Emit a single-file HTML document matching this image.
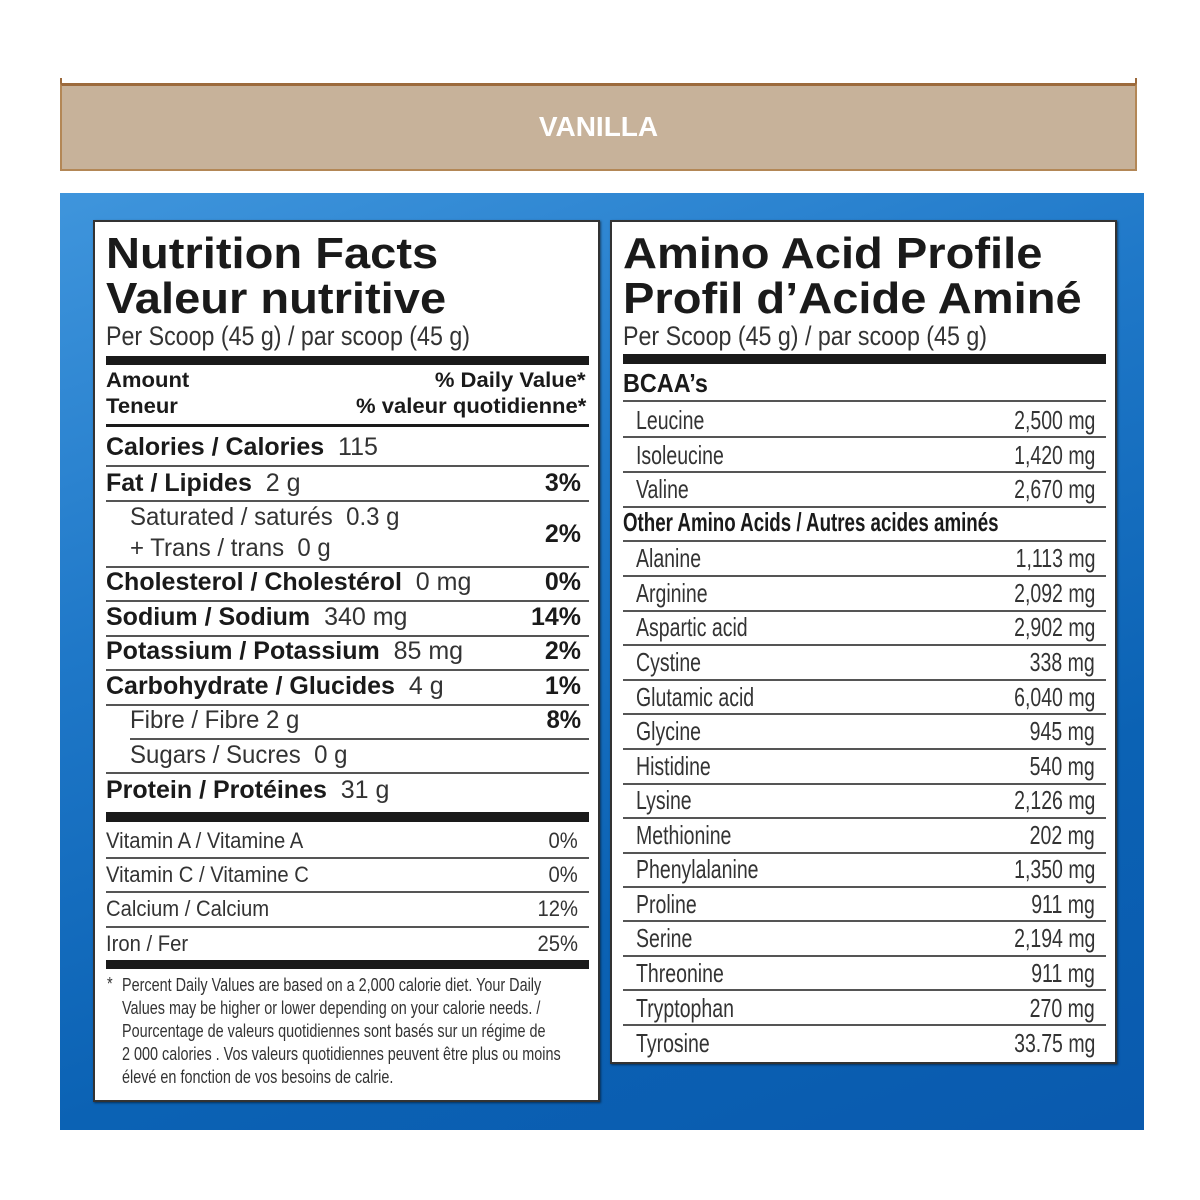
<!DOCTYPE html>
<html><head><meta charset="utf-8"><style>
*{margin:0;padding:0;box-sizing:border-box}
body{width:1200px;height:1200px;background:#fff;position:relative;overflow:hidden;font-family:"Liberation Sans",sans-serif;color:#222}
.a{position:absolute}
.band{left:60px;top:83px;width:1077px;height:88px;background:#c7b29a;border:2px solid #b38756;border-top:3px solid #9c6a3c}
.band span{position:absolute;left:0;right:0;top:25px;text-align:center;color:#fff;font-weight:bold;font-size:28px}
.blue{left:60px;top:193px;width:1084px;height:937px;background:linear-gradient(160deg,#3f95dc 0%,#1f78c8 35%,#0b62b4 70%,#0a5aae 100%)}
.panel{background:#fff;border:2px solid #333;box-shadow:1px 1px 2px rgba(0,0,0,.5)}
.h1{font-weight:bold;font-size:44px;line-height:46px;color:#1a1a1a;white-space:nowrap;transform:scaleX(1.07);transform-origin:left}
.r{position:absolute;height:30px;display:flex;justify-content:space-between;align-items:center;white-space:nowrap;font-size:25px;color:#333}
.r>*{display:inline-block;transform:scaleX(var(--s,1));transform-origin:right}
.r>*:first-child{transform-origin:left}
.b{font-weight:bold;color:#1a1a1a}
.ln{position:absolute;height:2px;background:#555}
.bar{position:absolute;background:#1a1a1a}
.fn{position:absolute;font-size:18px;line-height:23px;color:#333;white-space:nowrap;transform:scaleX(.8);transform-origin:left}
.am{--s:.75;font-size:26px}
.vt{--s:.92;font-size:22px}
</style></head><body>
<div class="a" style="left:60px;top:78px;width:2px;height:8px;background:#9c6a3c"></div>
<div class="a" style="left:1135px;top:78px;width:2px;height:8px;background:#9c6a3c"></div>
<div class="a band"><span>VANILLA</span></div>
<div class="a blue"></div>

<!-- LEFT PANEL -->
<div class="a panel" style="left:93px;top:220px;width:507px;height:882px"></div>
<div class="a h1" style="left:106px;top:231px">Nutrition Facts</div>
<div class="a h1" style="left:106px;top:276px">Valeur nutritive</div>
<div class="r" style="left:106px;top:321px;font-size:27px;--s:.86"><span>Per Scoop (45 g) / par scoop (45 g)</span></div>
<div class="bar" style="left:106px;top:356px;width:483px;height:9px"></div>
<div class="r b" style="left:106px;top:366px;width:480px;font-size:21px;--s:1.05"><span>Amount</span><span>% Daily Value*</span></div>
<div class="r b" style="left:106px;top:392px;width:480px;font-size:21px;--s:1.05"><span>Teneur</span><span>% valeur quotidienne*</span></div>
<div class="bar" style="left:106px;top:424px;width:483px;height:3px"></div>
<div class="r" style="left:106px;top:432px;width:475px"><span><b class="b">Calories / Calories</b>&nbsp; 115</span><span></span></div>
<div class="ln" style="left:106px;top:465px;width:483px"></div>
<div class="r" style="left:106px;top:468px;width:475px"><span><b class="b">Fat / Lipides</b>&nbsp; 2 g</span><b class="b">3%</b></div>
<div class="ln" style="left:106px;top:500px;width:483px"></div>
<div class="r" style="left:130px;top:502px;--s:.96"><span>Saturated / saturés&nbsp; 0.3 g</span></div>
<div class="r" style="left:130px;top:533px;--s:.96"><span>+ Trans / trans&nbsp; 0 g</span></div>
<div class="r b" style="left:540px;top:519px;width:41px;justify-content:flex-end"><span>2%</span></div>
<div class="ln" style="left:106px;top:566px;width:483px"></div>
<div class="r" style="left:106px;top:567px;width:475px"><span><b class="b">Cholesterol / Cholestérol</b>&nbsp; 0 mg</span><b class="b">0%</b></div>
<div class="ln" style="left:106px;top:600px;width:483px"></div>
<div class="r" style="left:106px;top:602px;width:475px"><span><b class="b">Sodium / Sodium</b>&nbsp; 340 mg</span><b class="b">14%</b></div>
<div class="ln" style="left:106px;top:635px;width:483px"></div>
<div class="r" style="left:106px;top:636px;width:475px"><span><b class="b">Potassium / Potassium</b>&nbsp; 85 mg</span><b class="b">2%</b></div>
<div class="ln" style="left:106px;top:669px;width:483px"></div>
<div class="r" style="left:106px;top:671px;width:475px"><span><b class="b">Carbohydrate / Glucides</b>&nbsp; 4 g</span><b class="b">1%</b></div>
<div class="ln" style="left:106px;top:704px;width:483px"></div>
<div class="r" style="left:130px;top:705px;width:451px;--s:.96"><span>Fibre / Fibre 2 g</span><b class="b">8%</b></div>
<div class="ln" style="left:130px;top:738px;width:459px"></div>
<div class="r" style="left:130px;top:740px;--s:.96"><span>Sugars / Sucres&nbsp; 0 g</span></div>
<div class="ln" style="left:106px;top:772px;width:483px"></div>
<div class="r" style="left:106px;top:775px"><span><b class="b">Protein / Protéines</b>&nbsp; 31 g</span></div>
<div class="bar" style="left:106px;top:812px;width:483px;height:10px"></div>
<div class="r vt" style="left:106px;top:826px;width:472px"><span>Vitamin A / Vitamine A</span><span>0%</span></div>
<div class="ln" style="left:106px;top:857px;width:483px"></div>
<div class="r vt" style="left:106px;top:860px;width:472px"><span>Vitamin C / Vitamine C</span><span>0%</span></div>
<div class="ln" style="left:106px;top:891px;width:483px"></div>
<div class="r vt" style="left:106px;top:894px;width:472px"><span>Calcium / Calcium</span><span>12%</span></div>
<div class="ln" style="left:106px;top:926px;width:483px"></div>
<div class="r vt" style="left:106px;top:929px;width:472px"><span>Iron / Fer</span><span>25%</span></div>
<div class="bar" style="left:106px;top:960px;width:483px;height:9px"></div>
<div class="fn" style="left:107px;top:973px">*</div>
<div class="fn" style="left:122px;top:974px">Percent Daily Values are based on a 2,000 calorie diet. Your Daily<br>Values may be higher or lower depending on your calorie needs. /<br>Pourcentage de valeurs quotidiennes sont basés sur un régime de<br>2 000 calories . Vos valeurs quotidiennes peuvent être plus ou moins<br>élevé en fonction de vos besoins de calrie.</div>

<!-- RIGHT PANEL -->
<div class="a panel" style="left:610px;top:220px;width:507px;height:844px"></div>
<div class="a h1" style="left:623px;top:231px">Amino Acid Profile</div>
<div class="a h1" style="left:623px;top:276px">Profil d’Acide Aminé</div>
<div class="r" style="left:623px;top:321px;font-size:27px;--s:.86"><span>Per Scoop (45 g) / par scoop (45 g)</span></div>
<div class="bar" style="left:623px;top:354px;width:483px;height:10px"></div>
<div class="r b" style="left:623px;top:368px;font-size:26px;--s:.9"><span>BCAA’s</span></div>
<div class="ln" style="left:623px;top:400px;width:483px"></div>
<div class="r am" style="left:636px;top:405px;width:459px"><span>Leucine</span><span>2,500 mg</span></div>
<div class="ln" style="left:623px;top:436px;width:483px"></div>
<div class="r am" style="left:636px;top:440px;width:459px"><span>Isoleucine</span><span>1,420 mg</span></div>
<div class="ln" style="left:623px;top:471px;width:483px"></div>
<div class="r am" style="left:636px;top:474px;width:459px"><span>Valine</span><span>2,670 mg</span></div>
<div class="ln" style="left:623px;top:506px;width:483px"></div>
<div class="r b" style="left:623px;top:507px;font-size:26px;--s:.72"><span>Other Amino Acids / Autres acides aminés</span></div>
<div class="ln" style="left:623px;top:540px;width:483px"></div>
<div class="r am" style="left:636px;top:543px;width:459px"><span>Alanine</span><span>1,113 mg</span></div>
<div class="ln" style="left:623px;top:575px;width:483px"></div>
<div class="r am" style="left:636px;top:578px;width:459px"><span>Arginine</span><span>2,092 mg</span></div>
<div class="ln" style="left:623px;top:610px;width:483px"></div>
<div class="r am" style="left:636px;top:612px;width:459px"><span>Aspartic acid</span><span>2,902 mg</span></div>
<div class="ln" style="left:623px;top:644px;width:483px"></div>
<div class="r am" style="left:636px;top:647px;width:459px"><span>Cystine</span><span>338 mg</span></div>
<div class="ln" style="left:623px;top:679px;width:483px"></div>
<div class="r am" style="left:636px;top:682px;width:459px"><span>Glutamic acid</span><span>6,040 mg</span></div>
<div class="ln" style="left:623px;top:713px;width:483px"></div>
<div class="r am" style="left:636px;top:716px;width:459px"><span>Glycine</span><span>945 mg</span></div>
<div class="ln" style="left:623px;top:748px;width:483px"></div>
<div class="r am" style="left:636px;top:751px;width:459px"><span>Histidine</span><span>540 mg</span></div>
<div class="ln" style="left:623px;top:783px;width:483px"></div>
<div class="r am" style="left:636px;top:785px;width:459px"><span>Lysine</span><span>2,126 mg</span></div>
<div class="ln" style="left:623px;top:817px;width:483px"></div>
<div class="r am" style="left:636px;top:820px;width:459px"><span>Methionine</span><span>202 mg</span></div>
<div class="ln" style="left:623px;top:852px;width:483px"></div>
<div class="r am" style="left:636px;top:854px;width:459px"><span>Phenylalanine</span><span>1,350 mg</span></div>
<div class="ln" style="left:623px;top:886px;width:483px"></div>
<div class="r am" style="left:636px;top:889px;width:459px"><span>Proline</span><span>911 mg</span></div>
<div class="ln" style="left:623px;top:920px;width:483px"></div>
<div class="r am" style="left:636px;top:923px;width:459px"><span>Serine</span><span>2,194 mg</span></div>
<div class="ln" style="left:623px;top:955px;width:483px"></div>
<div class="r am" style="left:636px;top:958px;width:459px"><span>Threonine</span><span>911 mg</span></div>
<div class="ln" style="left:623px;top:989px;width:483px"></div>
<div class="r am" style="left:636px;top:993px;width:459px"><span>Tryptophan</span><span>270 mg</span></div>
<div class="ln" style="left:623px;top:1024px;width:483px"></div>
<div class="r am" style="left:636px;top:1028px;width:459px"><span>Tyrosine</span><span>33.75 mg</span></div>
</body></html>
